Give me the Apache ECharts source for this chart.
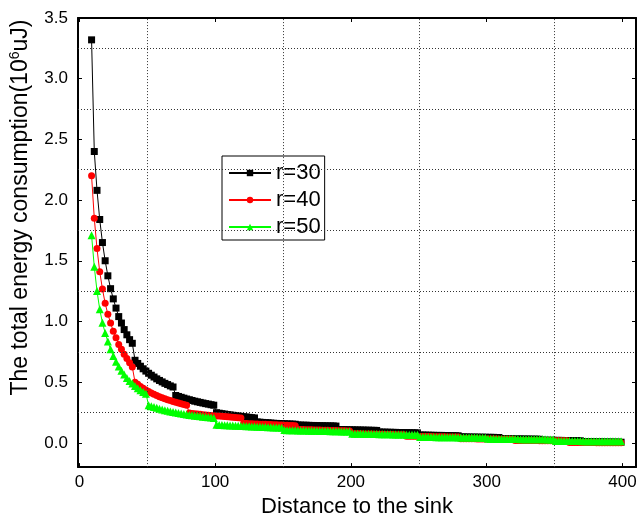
<!DOCTYPE html>
<html>
<head>
<meta charset="utf-8">
<script src="https://cdn.jsdelivr.net/npm/echarts@6/dist/echarts.min.js"></script>
<style>html,body{margin:0;padding:0;background:#fff}#c{width:640px;height:523px}</style>
</head>
<body>
<div id="c"></div>
<script>
var distance = [9,11,13,15,17,19,21,23,25,27,29,31,33,35,37,39,
41,43,45,47,49,51,53,55,57,59,61,63,65,67,69,71,73,75,77,79,81,83,85,87,89,91,93,95,97,99,
101,103,105,107,109,111,113,115,117,119,121,123,125,127,129,131,133,135,137,139,141,143,145,147,149,
151,153,155,157,159,161,163,165,167,169,171,173,175,177,179,181,183,185,187,189,191,193,195,197,199,
201,203,205,207,209,211,213,215,217,219,221,223,225,227,229,231,233,235,237,239,241,243,245,247,249,
251,253,255,257,259,261,263,265,267,269,271,273,275,277,279,281,283,285,287,289,291,293,295,297,299,
301,303,305,307,309,311,313,315,317,319,321,323,325,327,329,331,333,335,337,339,341,343,345,347,349,
351,353,355,357,359,361,363,365,367,369,371,373,375,377,379,381,383,385,387,389,391,393,395,397,399];

var r30 = [3.32,2.40,2.08,1.84,1.65,1.50,1.376,1.27,1.186,1.11,1.04,0.987,0.933,0.89,0.85,0.82,
0.68,0.654,0.631,0.61,0.591,0.573,0.557,0.542,0.527,0.514,0.502,0.49,0.48,0.469,0.46,
0.39,0.382,0.375,0.368,0.361,0.355,0.349,0.343,0.338,0.333,0.328,0.323,0.319,0.314,0.31,
0.248,0.244,0.24,0.237,0.233,0.23,0.227,0.224,0.221,0.218,0.215,0.213,0.21,0.207,0.205,
0.172,0.17,0.168,0.166,0.165,0.163,0.161,0.16,0.159,0.158,0.157,0.156,0.155,0.154,0.153,
0.147,0.146,0.145,0.145,0.144,0.143,0.143,0.142,0.141,0.141,0.14,0.14,0.139,0.139,0.138,
0.11,0.109,0.109,0.108,0.107,0.107,0.106,0.106,0.105,0.105,0.104,0.104,0.103,0.103,0.102,
0.089,0.088,0.088,0.087,0.087,0.086,0.086,0.085,0.085,0.084,0.084,0.083,0.083,0.082,0.082,
0.064,0.064,0.063,0.063,0.062,0.062,0.061,0.061,0.061,0.06,0.06,0.059,0.059,0.058,0.058,
0.049,0.049,0.048,0.048,0.047,0.047,0.047,0.046,0.046,0.046,0.045,0.045,0.045,0.044,0.044,
0.034,0.034,0.033,0.033,0.033,0.032,0.032,0.032,0.031,0.031,0.031,0.03,0.03,0.03,0.029,
0.022,0.022,0.021,0.021,0.021,0.02,0.02,0.02,0.019,0.019,0.019,0.018,0.018,0.018,0.017,
0.01,0.01,0.009,0.009,0.009,0.008,0.008,0.008,0.007,0.007,0.007,0.006,0.006,0.006,0.005];

var r40 = [2.20,1.85,1.60,1.41,1.267,1.15,1.06,0.987,0.92,0.865,0.81,0.77,0.73,0.695,0.66,0.625,
0.50,0.482,0.465,0.45,0.436,0.423,0.411,0.4,0.39,0.38,0.371,0.363,0.355,0.348,0.341,0.334,0.328,0.322,0.316,0.31,
0.245,0.242,0.24,0.237,0.235,0.232,0.23,0.228,0.226,0.224,0.222,0.22,0.218,0.216,0.214,0.212,0.21,0.209,0.207,0.205,
0.16,0.159,0.158,0.157,0.156,0.155,0.154,0.153,0.152,0.151,0.15,0.149,0.148,0.147,0.146,0.145,0.144,0.143,0.142,0.141,
0.11,0.109,0.109,0.108,0.107,0.107,0.106,0.105,0.105,0.104,0.103,0.103,0.102,0.101,0.101,0.1,0.099,0.099,0.098,0.097,
0.075,0.075,0.074,0.074,0.073,0.073,0.072,0.072,0.071,0.071,0.07,0.07,0.069,0.069,0.068,0.068,0.067,0.067,0.066,0.066,
0.055,0.055,0.054,0.054,0.054,0.053,0.053,0.052,0.052,0.052,0.051,0.051,0.05,0.05,0.05,0.049,0.049,0.049,0.048,0.048,
0.034,0.034,0.033,0.033,0.033,0.033,0.032,0.032,0.032,0.032,0.031,0.031,0.031,0.031,0.03,0.03,0.03,0.03,0.029,0.029,
0.02,0.02,0.02,0.02,0.019,0.019,0.019,0.019,0.019,0.018,0.018,0.018,0.018,0.018,0.018,0.017,0.017,0.017,0.017,0.017,
0.003,0.003,0.003,0.003,0.002,0.002,0.002,0.002,0.002,0.002,0.001,0.001,0.001,0.001,0.001,0.001,0,0,0,0];

var r50 = [1.71,1.45,1.25,1.10,0.99,0.905,0.835,0.77,0.715,0.668,0.628,0.593,0.562,0.534,0.51,0.488,0.468,0.45,0.434,0.419,0.405,
0.31,0.302,0.295,0.288,0.281,0.275,0.269,0.264,0.259,0.254,0.249,0.245,0.241,0.237,0.234,0.23,0.227,0.224,0.221,0.218,0.215,0.213,0.21,0.208,0.205,
0.148,0.147,0.146,0.145,0.144,0.143,0.142,0.141,0.14,0.139,0.138,0.137,0.136,0.135,0.134,0.133,0.132,0.131,0.13,0.129,0.128,0.127,0.127,0.126,0.125,
0.105,0.104,0.104,0.103,0.103,0.102,0.102,0.101,0.101,0.1,0.1,0.099,0.099,0.098,0.098,0.097,0.097,0.096,0.096,0.095,0.095,0.094,0.094,0.093,0.093,
0.075,0.075,0.074,0.074,0.074,0.073,0.073,0.072,0.072,0.072,0.071,0.071,0.07,0.07,0.07,0.069,0.069,0.068,0.068,0.068,0.067,0.067,0.066,0.066,0.066,
0.048,0.048,0.047,0.047,0.047,0.047,0.046,0.046,0.046,0.046,0.045,0.045,0.045,0.045,0.044,0.044,0.044,0.044,0.043,0.043,0.043,0.043,0.042,0.042,0.042,
0.033,0.033,0.033,0.032,0.032,0.032,0.032,0.031,0.031,0.031,0.031,0.031,0.03,0.03,0.03,0.03,0.03,0.029,0.029,0.029,0.029,0.029,0.028,0.028,0.028,
0.016,0.016,0.016,0.016,0.015,0.015,0.015,0.015,0.015,0.015,0.014,0.014,0.014,0.014,0.014,0.014,0.013,0.013,0.013,0.013,0.013,0.013,0.012,0.012,0.012];

var seriesNames = ['r=30','r=40','r=50'];
var xTickValues = [0,100,200,300,400];
var yTickValues = [0,0.5,1.0,1.5,2.0,2.5,3.0,3.5];
var xGridValues = [50,150,250,350];
var yGridValues = [0.25,0.75,1.25,1.75,2.25,2.75,3.25];

function pairs(xs, ys){ return ys.map(function(v,i){ return [xs[i], v]; }); }

var FONT = 'Liberation Sans, Arial, sans-serif';
var chart = echarts.init(document.getElementById('c'), null, {renderer:'canvas'});

var gridMarks = xGridValues.map(function(v){return {xAxis:v};})
  .concat(yGridValues.map(function(v){return {yAxis:v};}));

var frameLine = {show:true, onZero:false, lineStyle:{color:'#000', width:2}};
var tickIn = function(vals){ return {show:true, inside:true, length:4, lineStyle:{color:'#000', width:1}, customValues: vals}; };

chart.setOption({
  animation:false,
  backgroundColor:'#fff',
  grid:{left:78, right:4, top:18, bottom:50, containLabel:false},
  legend:{
    orient:'vertical', left:222, top:156,
    data: seriesNames,
    itemWidth:42, itemHeight:8, itemGap:5,
    padding:[6,4,2,6],
    backgroundColor:'#fff', borderColor:'#000', borderWidth:1,
    textStyle:{fontFamily:FONT, fontSize:22, color:'#000', lineHeight:22}
  },
  xAxis:[{
    type:'value', min:-1, max:410, position:'bottom',
    axisLine:frameLine, axisTick:tickIn(xTickValues),
    axisLabel:{customValues:xTickValues, fontFamily:FONT, fontSize:17, color:'#000', margin:7},
    splitLine:{show:false},
    name:'Distance to the sink', nameLocation:'middle', nameGap:28,
    nameTextStyle:{fontFamily:FONT, fontSize:22, color:'#000'}
  },{
    type:'value', min:-1, max:410, position:'top',
    axisLine:frameLine, axisTick:tickIn(xTickValues),
    axisLabel:{show:false}, splitLine:{show:false}
  }],
  yAxis:[{
    type:'value', min:-0.2, max:3.5, position:'left',
    axisLine:frameLine, axisTick:tickIn(yTickValues),
    axisLabel:{customValues:yTickValues, fontFamily:FONT, fontSize:17, color:'#000', margin:10,
      formatter:function(v){return v.toFixed(1);}},
    splitLine:{show:false},
    name:'{a|The total energy consumption(10}{s|6}{a|uJ)}',
    nameLocation:'middle', nameGap:45, nameRotate:90,
    nameTextStyle:{
      padding:[0,0,0,70],
      rich:{
        a:{fontFamily:FONT, fontSize:23, color:'#000', lineHeight:25},
        s:{fontFamily:FONT, fontSize:14, color:'#000', verticalAlign:'top', lineHeight:25}
      }
    }
  },{
    type:'value', min:-0.2, max:3.5, position:'right',
    axisLine:frameLine, axisTick:tickIn(yTickValues),
    axisLabel:{show:false}, splitLine:{show:false}
  }],
  series:[
    {
      name:'grid', type:'line', data:[], z:1, silent:true,
      markLine:{
        silent:true, symbol:['none','none'], label:{show:false}, animation:false,
        lineStyle:{type:[1,2], color:'#333', width:1},
        emphasis:{disabled:true},
        data: gridMarks
      }
    },
    {
      name:seriesNames[0], type:'line', data:pairs(distance, r30), z:3,
      symbol:'rect', symbolSize:7, showAllSymbol:true,
      lineStyle:{color:'#000', width:1}, itemStyle:{color:'#000'}
    },
    {
      name:seriesNames[1], type:'line', data:pairs(distance, r40), z:4,
      symbol:'circle', symbolSize:7, showAllSymbol:true,
      lineStyle:{color:'#ff0000', width:1}, itemStyle:{color:'#ff0000'}
    },
    {
      name:seriesNames[2], type:'line', data:pairs(distance, r50), z:5,
      symbol:'triangle', symbolSize:8, showAllSymbol:true,
      lineStyle:{color:'#00ff00', width:1}, itemStyle:{color:'#00ff00'}
    }
  ]
});
</script>
</body>
</html>
